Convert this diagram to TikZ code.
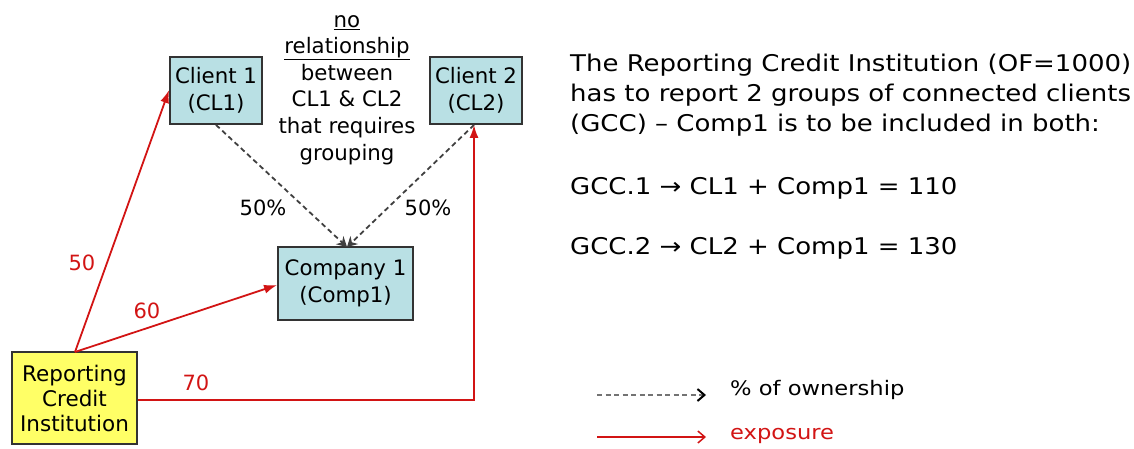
\documentclass[tikz,border=0pt]{standalone}
\usepackage{fontspec}
\setmainfont{DejaVu Sans}
\newfontfamily\widefont{DejaVu Sans}[FakeStretch=1.13]
\usetikzlibrary{arrows.meta}
\definecolor{boxblue}{RGB}{185,224,228}
\definecolor{boxyellow}{RGB}{255,255,102}
\definecolor{expred}{RGB}{210,20,20}
\tikzset{
  entity/.style={draw=black!80, line width=1.8pt, fill=boxblue, align=center, inner sep=0pt, font=\fontsize{21.3}{26.5}\selectfont},
  expo/.style={draw=expred, line width=1.8pt, -{Latex[length=13pt,width=9pt]}},
  own/.style={draw=black!75, line width=1.8pt, dash pattern=on 5pt off 3.5pt, -{Stealth[length=10pt,width=11pt]}},
  lbl/.style={font=\fontsize{21}{22}\selectfont, inner sep=0pt},
  rtext/.style={font=\widefont\fontsize{23}{30}\selectfont, anchor=north west, align=left, inner sep=0pt},
}
\begin{document}
\begin{tikzpicture}[x=1pt,y=-1pt]
\useasboundingbox (0,0) rectangle (1134,448);
\node[entity, minimum width=92pt, minimum height=67pt] (cl1) at (216,90.5) {Client 1\\(CL1)};
\node[entity, minimum width=92pt, minimum height=67pt] (cl2) at (476,90.5) {Client 2\\(CL2)};
\node[entity, minimum width=135pt, minimum height=73pt] (comp) at (345.5,283.5) {Company 1\\(Comp1)};
\node[entity, fill=boxyellow, minimum width=125pt, minimum height=92pt, font=\fontsize{21.5}{25}\selectfont] (rci) at (74.5,398) {Reporting\\Credit\\Institution};
\node[align=center, font=\fontsize{21.3}{26.6}\selectfont, inner sep=0pt, anchor=north] (note) at (347,15) {\underline{no}\\\underline{relationship}\\between\\CL1 \& CL2\\that requires\\grouping};
% ownership
\coordinate (cm) at (347,247);
\draw[own] (cl1.south) -- (cm);
\draw[own] (cl2.south -| 474,0) -- (cm);
\node[lbl] (p1) at (263,208) {50\%};
\node[lbl] (p2) at (428,208) {50\%};
% exposures
\coordinate (rtop) at (75,352);
\draw[expo] (rtop) -- (cl1.west |- 0,90);
\draw[expo] (rtop) -- (comp.west |- 0,285);
\draw[expo] (rci.east |- 0,400) -| (cl2.south -| 474,0);
\node[lbl, text=expred] (e50) at (82,263) {50};
\node[lbl, text=expred] (e60) at (147,311) {60};
\node[lbl, text=expred] (e70) at (196,383) {70};
% right text
\node[rtext] (desc) at (570,54) {The Reporting Credit Institution (OF=1000)\\has to report 2 groups of connected clients\\(GCC) – Comp1 is to be included in both:};
\node[rtext] (g1) at (570,177) {GCC.1 → CL1 + Comp1 = 110};
\node[rtext] (g2) at (570,237) {GCC.2 → CL2 + Comp1 = 130};
% legend
\coordinate (l1a) at (597,395);
\coordinate (l1b) at (706,395);
\coordinate (l2a) at (597,437);
\coordinate (l2b) at (706,437);
\draw[draw=black!55, line width=1.5pt, dash pattern=on 5pt off 3.5pt] (l1a) -- (l1b);
\draw[draw=black, line width=2pt, -{Straight Barb[length=7pt,width=12pt,line width=2pt]}] ([xshift=-3pt]l1b) -- (l1b);
\draw[draw=expred, line width=1.5pt, -{Straight Barb[length=7pt,width=12pt,line width=1.5pt]}] (l2a) -- (l2b);
\node[lbl, anchor=west, font=\widefont\fontsize{20}{22}\selectfont] (lt1) at (730,390) {\% of ownership};
\node[lbl, anchor=west, text=expred, font=\widefont\fontsize{20}{22}\selectfont] (lt2) at (730,436) {exposure};
\end{tikzpicture}
\end{document}
